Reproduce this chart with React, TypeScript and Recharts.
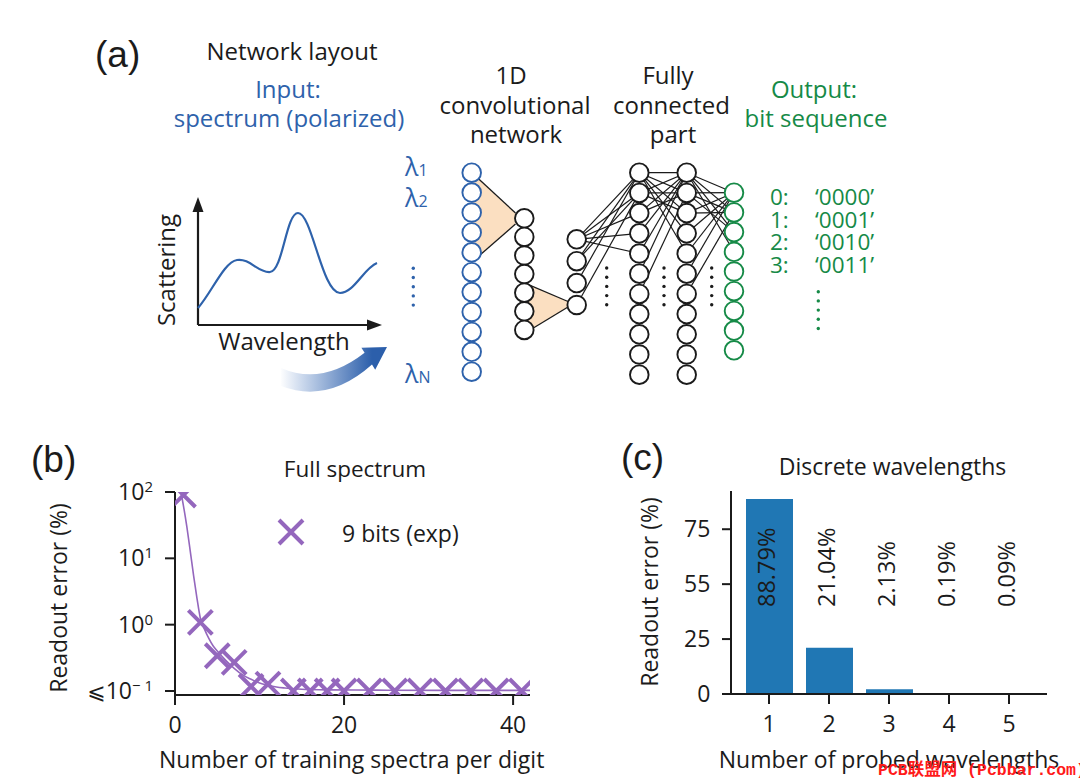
import React from "react";
import { BarChart, Bar, ComposedChart, LabelList, Line, Scatter, XAxis, YAxis } from "recharts";

const FONT = '"Open Sans", "DejaVu Sans", sans-serif';
const LABEL_FONT = '"Liberation Sans", Arial, sans-serif';
const INK = "#1b1b1b";
const PURPLE = "#9467bd";
const BAR_BLUE = "#2077b4";
const NET_BLUE = "#2e62ab";
const NET_GREEN = "#168a47";
const PEACH = "#fbdfc1";
const WEIGHT = 500;

// ---- panel (b): full spectrum ----
const trainingCounts = [1, 3, 5, 7, 9, 11, 14, 16, 18, 20, 23, 26, 29, 32, 35, 38, 41];
const readoutErrorExp = [90, 1.08, 0.34, 0.27, 0.117, 0.127, 0.1, 0.1, 0.1, 0.1, 0.1, 0.1, 0.1, 0.1, 0.1, 0.1, 0.1];
const fitCounts = [0.7, 1, 1.4, 1.8, 2.2, 2.6, 3, 3.5, 4, 4.5, 5, 6, 7, 8, 9, 10, 11, 12, 13, 15, 18, 24, 32, 42];
const fitError = [100, 62, 30, 13, 5.5, 2.5, 1.25, 0.85, 0.62, 0.48, 0.4, 0.29, 0.22, 0.175, 0.15, 0.132, 0.122, 0.115, 0.111, 0.106, 0.104, 0.103, 0.102, 0.102];
const logTicks = [0.1, 1, 10, 100];
const countTicks = [0, 20, 40];

// ---- panel (c): discrete wavelengths ----
const probedCounts = ["1", "2", "3", "4", "5"];
const probedError = [88.79, 21.04, 2.13, 0.19, 0.09];
const percentTicks = [0, 25, 50, 75];
const percentTickLabels = ["0", "25", "55", "75"];

const expPoints = trainingCounts.map((x, i) => ({ x, y: readoutErrorExp[i] }));
const fitPoints = fitCounts.map((x, i) => ({ x, y: fitError[i] }));
const probedData = probedCounts.map((n, i) => ({ n, err: probedError[i] }));

const axisStyle = { stroke: INK, strokeWidth: 2 };
const tickText = { fill: INK, fontSize: 23, fontFamily: FONT, fontWeight: WEIGHT };

function crossPath(cx: number, cy: number, h: number) {
  return `M${cx - h},${cy - h}L${cx + h},${cy + h}M${cx - h},${cy + h}L${cx + h},${cy - h}`;
}

const Cross = (props: any) => (
  <path d={crossPath(props.cx, props.cy, 12)} stroke={PURPLE} strokeWidth={4} fill="none" />
);

const PowerTick = (props: any) => {
  const { x, y, payload } = props;
  const exp = Math.round(Math.log10(payload.value));
  return (
    <text x={x} y={y} dy={8} textAnchor="end" fontFamily={FONT} fontWeight={WEIGHT} fontSize={23} fill={INK}>
      {exp === -1 && (
        <tspan fontFamily="DejaVu Sans" fontSize={22}>
          ⩽
        </tspan>
      )}
      <tspan>10</tspan>
      <tspan dy={-8} fontSize={15}>
        {exp === -1 ? "− 1" : String(exp)}
      </tspan>
    </text>
  );
};

const LABEL_Y = 607;

const RotatedValue = (props: any) => {
  const { x, width, value } = props;
  const cx = Number(x) + Number(width) / 2 + 5;
  return (
    <text
      transform={`translate(${cx},${LABEL_Y}) rotate(-90)`}
      fontFamily={FONT}
      fontWeight={WEIGHT}
      fontSize={23.5}
      fill={INK}
    >
      {Number(value).toFixed(2)}%
    </text>
  );
};

function FullSpectrumChart() {
  return (
    <div style={{ position: "absolute", left: 0, top: 0 }}>
      <ComposedChart width={540} height={783} margin={{ top: 492, right: 10, bottom: 48, left: 95 }}>
        <XAxis
          type="number"
          dataKey="x"
          domain={[0, 42]}
          ticks={countTicks}
          allowDataOverflow
          height={40}
          tickSize={10}
          tickMargin={11.7}
          axisLine={axisStyle}
          tickLine={axisStyle}
          tick={tickText}
        />
        <XAxis
          xAxisId="frame"
          orientation="top"
          type="number"
          domain={[0, 42]}
          height={0}
          tick={false}
          tickLine={false}
          axisLine={axisStyle}
        />
        <YAxis
          type="number"
          dataKey="y"
          scale="log"
          domain={[0.087, 100]}
          ticks={logTicks}
          allowDataOverflow
          width={80}
          tickSize={10}
          tickMargin={12}
          axisLine={axisStyle}
          tickLine={axisStyle}
          tick={PowerTick}
        />
        <YAxis
          yAxisId="frame"
          orientation="right"
          type="number"
          domain={[0, 1]}
          width={0}
          tick={false}
          tickLine={false}
          axisLine={axisStyle}
        />
        <Line
          data={fitPoints}
          dataKey="y"
          type="monotone"
          stroke={PURPLE}
          strokeWidth={1.6}
          dot={false}
          isAnimationActive={false}
        />
        <Scatter data={expPoints} dataKey="y" shape={Cross} isAnimationActive={false} />
      </ComposedChart>
    </div>
  );
}

function DiscreteChart() {
  return (
    <div style={{ position: "absolute", left: 560, top: 0 }}>
      <BarChart width={520} height={783} data={probedData} margin={{ top: 491, right: 33, bottom: 49, left: 111 }}>
        <XAxis
          dataKey="n"
          padding={{ left: 8, right: 8 }}
          height={40}
          tickSize={10}
          tickMargin={11.4}
          axisLine={axisStyle}
          tickLine={axisStyle}
          tick={tickText}
        />
        <XAxis
          xAxisId="frame"
          orientation="top"
          dataKey="n"
          padding={{ left: 8, right: 8 }}
          height={0}
          tick={false}
          tickLine={false}
          axisLine={axisStyle}
        />
        <YAxis
          type="number"
          domain={[0, 92.4]}
          ticks={percentTicks}
          tickFormatter={(v: number) => percentTickLabels[percentTicks.indexOf(v)]}
          allowDataOverflow
          width={60}
          tickSize={9}
          tickMargin={11.7}
          axisLine={axisStyle}
          tickLine={axisStyle}
          tick={tickText}
        />
        <YAxis
          yAxisId="frame"
          orientation="right"
          type="number"
          domain={[0, 1]}
          width={0}
          tick={false}
          tickLine={false}
          axisLine={axisStyle}
        />
        <Bar dataKey="err" fill={BAR_BLUE} barSize={47} isAnimationActive={false}>
          <LabelList dataKey="err" content={RotatedValue} />
        </Bar>
      </BarChart>
    </div>
  );
}

// ---- panel (a): network sketch ----
const layers = [
  { x: 471.7, y0: 172.7, n: 11, step: 19.9, color: NET_BLUE },
  { x: 524.3, y0: 218.3, n: 7, step: 18.6, color: INK },
  { x: 576.7, y0: 239.3, n: 4, step: 21.9, color: INK },
  { x: 639.3, y0: 172.7, n: 11, step: 20.2, color: INK },
  { x: 686.7, y0: 172.7, n: 11, step: 20.2, color: INK },
  { x: 734, y0: 192.7, n: 9, step: 19.7, color: NET_GREEN },
];

const links: [number, number, number, number][] = [
  [2, 0, 3, 0], [2, 0, 3, 1], [2, 0, 3, 2], [2, 0, 3, 3], [2, 0, 3, 4],
  [2, 1, 3, 0], [2, 1, 3, 1], [2, 2, 3, 0], [2, 3, 3, 1],
  [3, 0, 4, 0], [3, 0, 4, 1], [3, 0, 4, 2], [3, 0, 4, 3], [3, 0, 4, 4],
  [3, 1, 4, 0], [3, 1, 4, 1], [3, 1, 4, 2], [3, 2, 4, 0], [3, 2, 4, 1],
  [3, 3, 4, 0], [3, 4, 4, 0], [3, 5, 4, 0], [3, 6, 4, 1],
  [4, 0, 5, 0], [4, 0, 5, 1], [4, 0, 5, 2], [4, 0, 5, 3],
  [4, 1, 5, 0], [4, 1, 5, 1], [4, 1, 5, 2], [4, 2, 5, 0], [4, 2, 5, 1],
  [4, 3, 5, 0], [4, 4, 5, 0], [4, 5, 5, 0], [4, 6, 5, 1],
];

const nodeY = (l: number, i: number) => layers[l].y0 + i * layers[l].step;

function Dots({ x, y0, color }: { x: number; y0: number; color: string }) {
  return (
    <g fill={color}>
      {[0, 1, 2, 3, 4].map((i) => (
        <circle key={i} cx={x} cy={y0 + i * 9.2} r={1.7} />
      ))}
    </g>
  );
}

const outputRows = [
  { k: "0:", v: "‘0000’" },
  { k: "1:", v: "‘0001’" },
  { k: "2:", v: "‘0010’" },
  { k: "3:", v: "‘0011’" },
];

function Overlay() {
  return (
    <svg
      width={1080}
      height={783}
      style={{ position: "absolute", left: 0, top: 0, pointerEvents: "none" }}
      fontFamily={FONT}
      fontWeight={WEIGHT}
    >
      <defs>
        <linearGradient id="swoosh" gradientUnits="userSpaceOnUse" x1={280} y1={0} x2={372} y2={0}>
          <stop offset="0" stopColor="#ffffff" />
          <stop offset="0.25" stopColor="#c9d7ec" />
          <stop offset="1" stopColor="#2c5fab" />
        </linearGradient>
      </defs>

      {/* panel letters */}
      <g fontFamily={LABEL_FONT} fontWeight={400} fontSize={37} fill={INK}>
        <text x={95} y={67}>(a)</text>
        <text x={31} y={472}>(b)</text>
        <text x={621} y={470}>(c)</text>
      </g>

      {/* headings of (a) */}
      <g fontSize={24} textAnchor="middle" fill={INK}>
        <text x={292} y={60}>Network layout</text>
        <text x={511} y={84}>1D</text>
        <text x={515} y={113.5}>convolutional</text>
        <text x={516} y={143}>network</text>
        <text x={668} y={83.5}>Fully</text>
        <text x={671.5} y={113.5}>connected</text>
        <text x={673} y={143}>part</text>
      </g>
      <g fontSize={24} textAnchor="middle" fill={NET_BLUE}>
        <text x={288} y={98}>Input:</text>
        <text x={289} y={127}>spectrum (polarized)</text>
      </g>
      <g fontSize={24} textAnchor="middle" fill={NET_GREEN}>
        <text x={814} y={98}>Output:</text>
        <text x={816} y={127}>bit sequence</text>
      </g>

      {/* spectrum sketch */}
      <g stroke={INK} strokeWidth={2.2} fill="none">
        <line x1={198} y1={325} x2={198} y2={208} />
        <line x1={198} y1={325} x2={372} y2={325} />
      </g>
      <path d="M198,197 L192.5,212 L203.5,212 Z" fill={INK} />
      <path d="M382,325 L367,319.5 L367,330.5 Z" fill={INK} />
      <path
        d="M198,308 C212,292 224,262 237,260 C250,258 258,273 270,272 C283,271 286,213 298,213 C312,213 322,293 340,293 C354,293 364,268 377,263"
        stroke={NET_BLUE}
        strokeWidth={2.2}
        fill="none"
      />
      <text transform="translate(175,270) rotate(-90)" fontSize={24} textAnchor="middle" fill={INK}>
        Scattering
      </text>
      <text x={284} y={350} fontSize={24} textAnchor="middle" fill={INK}>
        Wavelength
      </text>
      <path
        d="M281,368 Q322,386 364.6,352.8 L361.4,347.7 L387,347 L375.2,369.8 L372,364.6 Q328,404 281,386 Z"
        fill="url(#swoosh)"
      />

      {/* wavelength labels */}
      <g fill={NET_BLUE} fontSize={25}>
        <text x={405} y={176}>
          λ<tspan fontSize={16}>1</tspan>
        </text>
        <text x={405} y={206.5}>
          λ<tspan fontSize={16}>2</tspan>
        </text>
        <text x={405} y={383}>
          λ<tspan fontSize={16}>N</tspan>
        </text>
      </g>
      <Dots x={413.3} y0={268.3} color={NET_BLUE} />

      {/* convolution kernels */}
      <polygon points="472,172.7 515.5,213 515.5,224 472,262" fill={PEACH} />
      <polygon points="524.3,282.8 568,301.5 568,307 524.3,333.5" fill={PEACH} />
      <g stroke={INK} strokeWidth={1.3}>
        <line x1={472} y1={172.7} x2={515.5} y2={213} />
        <line x1={515.5} y1={224} x2={472} y2={262} />
        <line x1={524.3} y1={282.8} x2={568} y2={301.5} />
        <line x1={568} y1={307} x2={524.3} y2={333.5} />
      </g>

      {/* fully connected links */}
      <g stroke={INK} strokeWidth={1.2}>
        {links.map(([a, i, b, j], k) => (
          <line key={k} x1={layers[a].x} y1={nodeY(a, i)} x2={layers[b].x} y2={nodeY(b, j)} />
        ))}
      </g>

      {/* neurons */}
      {layers.map((l, li) => (
        <g key={li} stroke={l.color} strokeWidth={1.9} fill="#ffffff">
          {Array.from({ length: l.n }, (_, i) => (
            <circle key={i} cx={l.x} cy={nodeY(li, i)} r={9.3} />
          ))}
        </g>
      ))}
      <Dots x={606.7} y0={268} color={INK} />
      <Dots x={664} y0={268} color={INK} />
      <Dots x={711.7} y0={268} color={INK} />

      {/* output codes */}
      <g fill={NET_GREEN} fontSize={22.5}>
        {outputRows.map((r, i) => (
          <g key={r.k}>
            <text x={770} y={205 + i * 22.5}>{r.k}</text>
            <text x={815} y={205 + i * 22.5}>{r.v}</text>
          </g>
        ))}
      </g>
      <Dots x={818.3} y0={291.7} color={NET_GREEN} />

      {/* titles and axis names of (b) and (c) */}
      <g fontSize={22.5} textAnchor="middle" fill={INK}>
        <text x={355} y={477}>Full spectrum</text>
      </g>
      <g fontSize={23} textAnchor="middle" fill={INK}>
        <text x={892.5} y={475}>Discrete wavelengths</text>
        <text transform="translate(67,598) rotate(-90)">Readout error (%)</text>
        <text transform="translate(658,592) rotate(-90)">Readout error (%)</text>
        <text x={351.7} y={768}>Number of training spectra per digit</text>
        <text x={889} y={768}>Number of probed wavelengths</text>
      </g>

      {/* legend of (b) */}
      <path d={crossPath(291, 532, 12)} stroke={PURPLE} strokeWidth={4} fill="none" />
      <text x={342} y={542} fontSize={23} fill={INK}>
        9 bits (exp)
      </text>

      {/* watermark */}
      <text
        x={878}
        y={775}
        fontSize={16.5}
        fontWeight="bold"
        fill="#ff1a1a"
        fontFamily='"Liberation Mono", "Noto Sans CJK SC", monospace'
      >
        PCB联盟网 (Pcbbar.com)
      </text>
    </svg>
  );
}

export default function App() {
  return (
    <div
      style={{
        position: "absolute",
        left: 0,
        top: 0,
        width: 1080,
        height: 783,
        background: "#ffffff",
        overflow: "hidden",
      }}
    >
      <FullSpectrumChart />
      <DiscreteChart />
      <Overlay />
    </div>
  );
}
